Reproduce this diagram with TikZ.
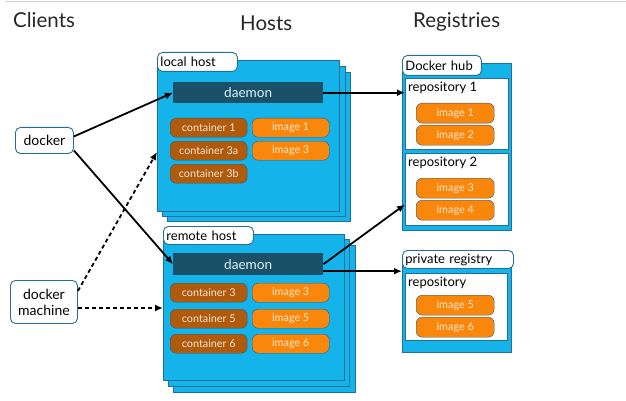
\documentclass[tikz,border=0pt]{standalone}
\usepackage{fontspec}
\setmainfont{Lato}
\usetikzlibrary{arrows.meta}
\definecolor{hubblue}{HTML}{14B4EA}
\definecolor{edgeblue}{HTML}{22709A}
\definecolor{daemonteal}{HTML}{1A5068}
\definecolor{ctrbrown}{HTML}{B05A0C}
\definecolor{imgorange}{HTML}{F9870C}
\definecolor{pilledge}{HTML}{31587A}
\definecolor{rulegray}{HTML}{D0D0D0}
\tikzset{
  title/.style={font=\fontsize{20.5}{22}\selectfont, text=black!85, inner sep=0pt},
  layer/.style={draw=edgeblue, fill=hubblue, line width=0.9pt, anchor=north west, inner sep=0pt},
  tab/.style={draw=edgeblue, fill=white, line width=0.9pt, rounded corners=5pt, anchor=north west,
    inner xsep=3pt, inner ysep=0pt, text width=#1, align=left, minimum height=19pt,
    font=\fontsize{13}{14}\selectfont},
  repo/.style={draw=edgeblue, fill=white, line width=0.9pt, anchor=north west, inner sep=0pt},
  repolabel/.style={anchor=north west, inner xsep=3pt, inner ysep=4pt, font=\fontsize{13}{14}\selectfont},
  daemon/.style={fill=daemonteal, anchor=north west, minimum width=150pt, text=white!85!hubblue,
    font=\fontsize{13.6}{15}\selectfont},
  ctr/.style={draw=pilledge, fill=ctrbrown, rounded corners=6pt, anchor=north west, inner sep=0pt,
    minimum width=77pt, minimum height=19pt, text=white!85!ctrbrown, font=\fontsize{10.8}{12}\selectfont},
  img/.style={ctr, fill=imgorange, text=white!80!imgorange},
  client/.style={draw=edgeblue, fill=white, line width=0.9pt, rounded corners=5pt, anchor=north west,
    inner sep=0pt, align=center, font=\fontsize{14}{16}\selectfont},
  conn/.style={line width=1.8pt, -{Latex[length=8pt,width=7pt]}},
  dconn/.style={conn, dash pattern=on 4pt off 3pt}
}
\begin{document}
\begin{tikzpicture}[x=1pt,y=-1pt]
\useasboundingbox (0,0) rectangle (626,401);
\path[draw=rulegray,line width=0.8pt] (5,1) -- (626,1);
\node[title,anchor=base west] (clients) at (13,28) {Clients};
\node[title,anchor=base west] (hosts) at (240,31) {Hosts};
\node[title,anchor=base west] (registries) at (413,28) {Registries};

% clients
\node[client,minimum width=58pt,minimum height=26pt] (docker) at (15,127) {docker};
\node[client,minimum width=67pt,minimum height=43pt] (dm) at (10,280) {docker\\machine};

% local host
\node[layer,minimum width=183pt,minimum height=149pt] (lh3) at (167,72) {};
\node[layer,minimum width=183pt,minimum height=150pt] (lh2) at (162,66) {};
\node[layer,minimum width=182pt,minimum height=151pt] (lh) at (157,60) {};
\node[tab=74pt] (lhtab) at (157,52) {local host};
\node[daemon,minimum height=21pt] (ld) at (173,82) {daemon};
\node[ctr] (c1) at (170,118) {container 1};
\node[ctr] (c3a) at (170,141) {container 3a};
\node[ctr] (c3b) at (170,164) {container 3b};
\node[img] (li1) at (252,118) {image 1};
\node[img] (li3) at (252,141) {image 3};

% remote host
\node[layer,minimum width=182pt,minimum height=147pt] (rh3) at (173,245) {};
\node[layer,minimum width=181pt,minimum height=147pt] (rh2) at (168,239) {};
\node[layer,minimum width=181pt,minimum height=146pt] (rh) at (163,234) {};
\node[tab=84pt,minimum height=18pt] (rhtab) at (163,226) {remote host};
\node[daemon,minimum height=22pt] (rd) at (173,253) {daemon};
\node[ctr] (c3) at (170,283) {container 3};
\node[ctr] (c5) at (170,309) {container 5};
\node[ctr] (c6) at (170,334) {container 6};
\node[img] (ri3) at (252,283) {image 3};
\node[img] (ri5) at (252,309) {image 5};
\node[img] (ri6) at (252,334) {image 6};

% docker hub
\node[layer,minimum width=109pt,minimum height=167pt] (hub) at (402,63) {};
\node[tab=73pt,minimum height=20pt] (hubtab) at (402,55) {Docker hub};
\node[repo,minimum width=103pt,minimum height=71pt] (repo1) at (405,78) {};
\node[repolabel] at (repo1.north west) {repository 1};
\node[repo,minimum width=103pt,minimum height=72pt] (repo2) at (405,153) {};
\node[repolabel] at (repo2.north west) {repository 2};
\node[img,minimum width=78pt,minimum height=20pt] (hi1) at (416,103) {image 1};
\node[img,minimum width=78pt,minimum height=20pt] (hi2) at (416,125) {image 2};
\node[img,minimum width=78pt,minimum height=20pt] (hi3) at (416,178) {image 3};
\node[img,minimum width=78pt,minimum height=20pt] (hi4) at (416,200) {image 4};

% private registry
\node[layer,minimum width=109pt,minimum height=92pt] (prv) at (402,260) {};
\node[tab=105pt,minimum height=18pt] (prvtab) at (402,250) {private registry};
\node[repo,minimum width=102pt,minimum height=67pt] (prepo) at (405,273) {};
\node[repolabel] at (prepo.north west) {repository};
\node[img,minimum width=78pt,minimum height=20pt] (pi5) at (416,295) {image 5};
\node[img,minimum width=78pt,minimum height=20pt] (pi6) at (416,317) {image 6};

% connectors
\coordinate (lhin) at (157,152);
\coordinate (rhin) at (163,308);
\coordinate (rdout) at ([yshift=-7pt]rd.east);
\path[draw,conn] ([yshift=4pt]docker.east) -- (ld.west);
\path[draw,conn] ([yshift=-10pt]docker.east) -- (rd.west);
\path[draw,dconn] ([yshift=11pt]dm.east) -- (lhin);
\path[draw,dconn] (dm.east |- rhin) -- (rhin);
\path[draw,conn] (ld.east) -- (ld.east -| repo1.west);
\path[draw,conn] (rd.east) -- ([yshift=-15pt]repo2.west);
\path[draw,conn] (rdout) -- (rdout -| prv.west);
\end{tikzpicture}
\end{document}
